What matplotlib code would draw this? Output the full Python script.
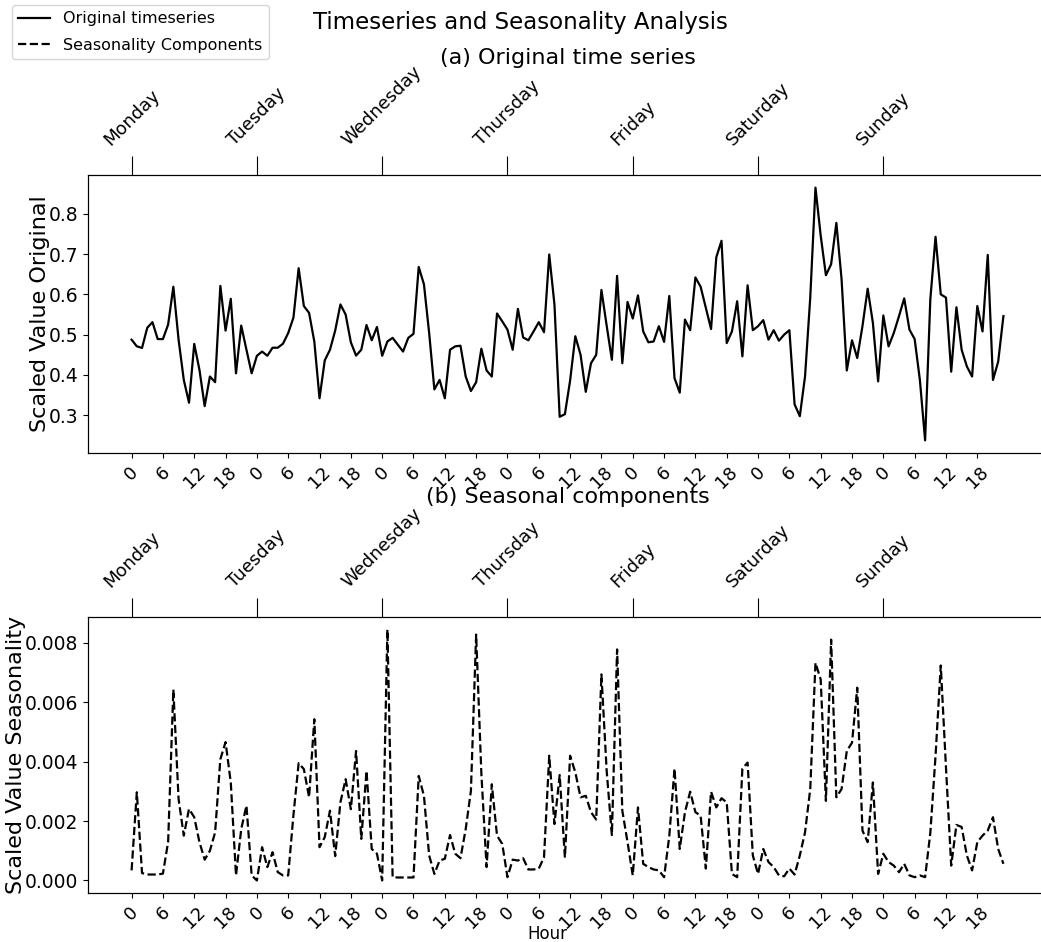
import matplotlib
matplotlib.use("Agg")
import matplotlib.pyplot as plt
from matplotlib.lines import Line2D
import numpy as np

# Hourly values over one week (Monday 00:00 .. Sunday 23:00)
original = [
    0.4875, 0.471, 0.467, 0.517, 0.531, 0.489, 0.489, 0.525, 0.619, 0.4875,
    0.3875, 0.331, 0.477, 0.4125, 0.3225, 0.396, 0.382, 0.621, 0.51, 0.589,
    0.404, 0.5225, 0.4625, 0.404, 0.4475, 0.458, 0.4475, 0.4675, 0.4675, 0.4775,
    0.504, 0.542, 0.665, 0.571, 0.554, 0.483, 0.342, 0.436, 0.4625, 0.51,
    0.575, 0.55, 0.481, 0.448, 0.4625, 0.524, 0.486, 0.519, 0.4475, 0.483,
    0.492, 0.475, 0.458, 0.492, 0.502, 0.668, 0.625, 0.504, 0.364, 0.3875,
    0.342, 0.4625, 0.471, 0.4725, 0.396, 0.36, 0.382, 0.465, 0.411, 0.396,
    0.5525, 0.533, 0.5125, 0.4625, 0.564, 0.493, 0.486, 0.508, 0.531, 0.506,
    0.699, 0.575, 0.296, 0.3025, 0.386, 0.496, 0.45, 0.358, 0.429, 0.45,
    0.611, 0.5225, 0.4375, 0.646, 0.429, 0.581, 0.54, 0.5975, 0.508, 0.481,
    0.483, 0.521, 0.482, 0.596, 0.392, 0.356, 0.5375, 0.511, 0.642, 0.619,
    0.567, 0.514, 0.692, 0.733, 0.479, 0.508, 0.583, 0.446, 0.6225, 0.511,
    0.521, 0.536, 0.4875, 0.511, 0.485, 0.5, 0.511, 0.327, 0.2975, 0.396,
    0.592, 0.865, 0.746, 0.6475, 0.675, 0.7775, 0.6375, 0.411, 0.486, 0.442,
    0.521, 0.614, 0.529, 0.384, 0.5475, 0.471, 0.504, 0.546, 0.59, 0.5125,
    0.489, 0.3875, 0.2375, 0.5875, 0.743, 0.6, 0.592, 0.408, 0.568, 0.4625,
    0.421, 0.396, 0.571, 0.508, 0.698, 0.3875, 0.433, 0.546,
]

seasonal = [
    0.00034, 0.00297, 0.00025, 0.0002, 0.0002, 0.0002, 0.00023, 0.0013, 0.00643, 0.00274,
    0.00151, 0.00241, 0.00213, 0.00129, 0.0007, 0.001, 0.00162, 0.00408, 0.00466, 0.0033,
    0.00017, 0.00173, 0.00252, 0.00017, 0.0, 0.00112, 0.00045, 0.00095, 0.00028, 0.00017,
    0.00017, 0.0022, 0.00395, 0.00375, 0.0028, 0.00543, 0.00112, 0.00146, 0.00235, 0.00082,
    0.00263, 0.00341, 0.0024, 0.00436, 0.0014, 0.00369, 0.00106, 0.0009, 0.0, 0.00845,
    0.00011, 0.0001, 0.0001, 0.0001, 0.0001, 0.00352, 0.00285, 0.00084, 0.00022, 0.00067,
    0.00073, 0.00153, 0.0009, 0.00075, 0.00173, 0.00302, 0.00828, 0.0036, 0.00045, 0.00324,
    0.00151, 0.00123, 0.00011, 0.0007, 0.00067, 0.00075, 0.00037, 0.00037, 0.0004, 0.00078,
    0.0042, 0.0019, 0.00355, 0.00077, 0.0042, 0.00364, 0.0028, 0.00285, 0.0023, 0.00205,
    0.00694, 0.0037, 0.00153, 0.00778, 0.00235, 0.00129, 0.00017, 0.00246, 0.00056, 0.00045,
    0.00037, 0.00034, 0.00011, 0.0015, 0.00377, 0.00106, 0.0023, 0.00299, 0.0023, 0.00218,
    0.0004, 0.00299, 0.00246, 0.00277, 0.00263, 0.00022, 0.00011, 0.00377, 0.00397, 0.00084,
    0.00022, 0.00106, 0.00062, 0.00045, 0.00017, 0.00014, 0.0004, 0.0002, 0.00084, 0.00162,
    0.00308, 0.00733, 0.00677, 0.00268, 0.00811, 0.0028, 0.00308, 0.00436, 0.00464, 0.00649,
    0.00168, 0.00129, 0.0033, 0.00022, 0.0009, 0.00062, 0.0005, 0.00028, 0.00056, 0.00017,
    0.00011, 0.00017, 0.00011, 0.0016, 0.0042, 0.00724, 0.0038, 0.0005, 0.00187, 0.0018,
    0.00084, 0.00034, 0.00129, 0.00151, 0.00168, 0.00213, 0.00106, 0.00056,
]

days = ["Monday", "Tuesday", "Wednesday", "Thursday", "Friday", "Saturday", "Sunday"]
hour_labels = ["0", "6", "12", "18"] * len(days)

hours = np.arange(len(original))
hour_ticks = np.arange(0, len(original), 6)
day_ticks = np.arange(0, len(original), 24)

W, H = 1041, 942
fig = plt.figure(figsize=(W / 100, H / 100), dpi=100)


def rect(left, top, right, bottom):
    return [left / W, 1 - bottom / H, (right - left) / W, (bottom - top) / H]


ax_orig = fig.add_axes(rect(88, 175, 1047, 453))
ax_seas = fig.add_axes(rect(88, 617, 1047, 893))

panels = [
    (ax_orig, original, "-", "Scaled Value Original", "(a) Original time series", 58, 175, 453),
    (ax_seas, seasonal, "--", "Scaled Value Seasonality", "(b) Seasonal components", 497, 617, 893),
]

for ax, series, style, ylabel, title, title_px, ax_top, ax_bottom in panels:
    ax.plot(hours, series, color="black", linestyle=style, linewidth=1.6)
    ax.set_xticks(hour_ticks)
    ax.set_xticklabels(hour_labels, rotation=45, fontsize=13)
    ax.tick_params(axis="y", labelsize=13.5)
    ax.set_ylabel(ylabel, fontsize=16, labelpad=-1)

    top = ax.twiny()
    top.set_xlim(ax.get_xlim())
    top.set_xticks(day_ticks)
    top.set_xticklabels(days, rotation=45, fontsize=13)
    top.tick_params(axis="x", length=14, pad=5)
    title_y = 1 + (ax_top - title_px) / (ax_bottom - ax_top)
    top.set_title(title, fontsize=16, y=title_y, pad=0, va="center")

ax_seas.set_xlabel("Hour", fontsize=12)
ax_seas.xaxis.set_label_coords((547 - 88) / (1047 - 88), (893 - 925) / (893 - 617))

fig.suptitle("Timeseries and Seasonality Analysis", fontsize=16.5, y=1 - 22 / H, va="center")

handles = [
    Line2D([], [], color="black", linestyle="-", linewidth=1.6),
    Line2D([], [], color="black", linestyle="--", linewidth=1.6),
]
fig.legend(handles, ["Original timeseries", "Seasonality Components"],
           loc="upper left", bbox_to_anchor=(12 / W, 1 - 5 / H),
           borderaxespad=0, fontsize=11.5, labelspacing=0.7)

fig.savefig("out.png", dpi=100)
